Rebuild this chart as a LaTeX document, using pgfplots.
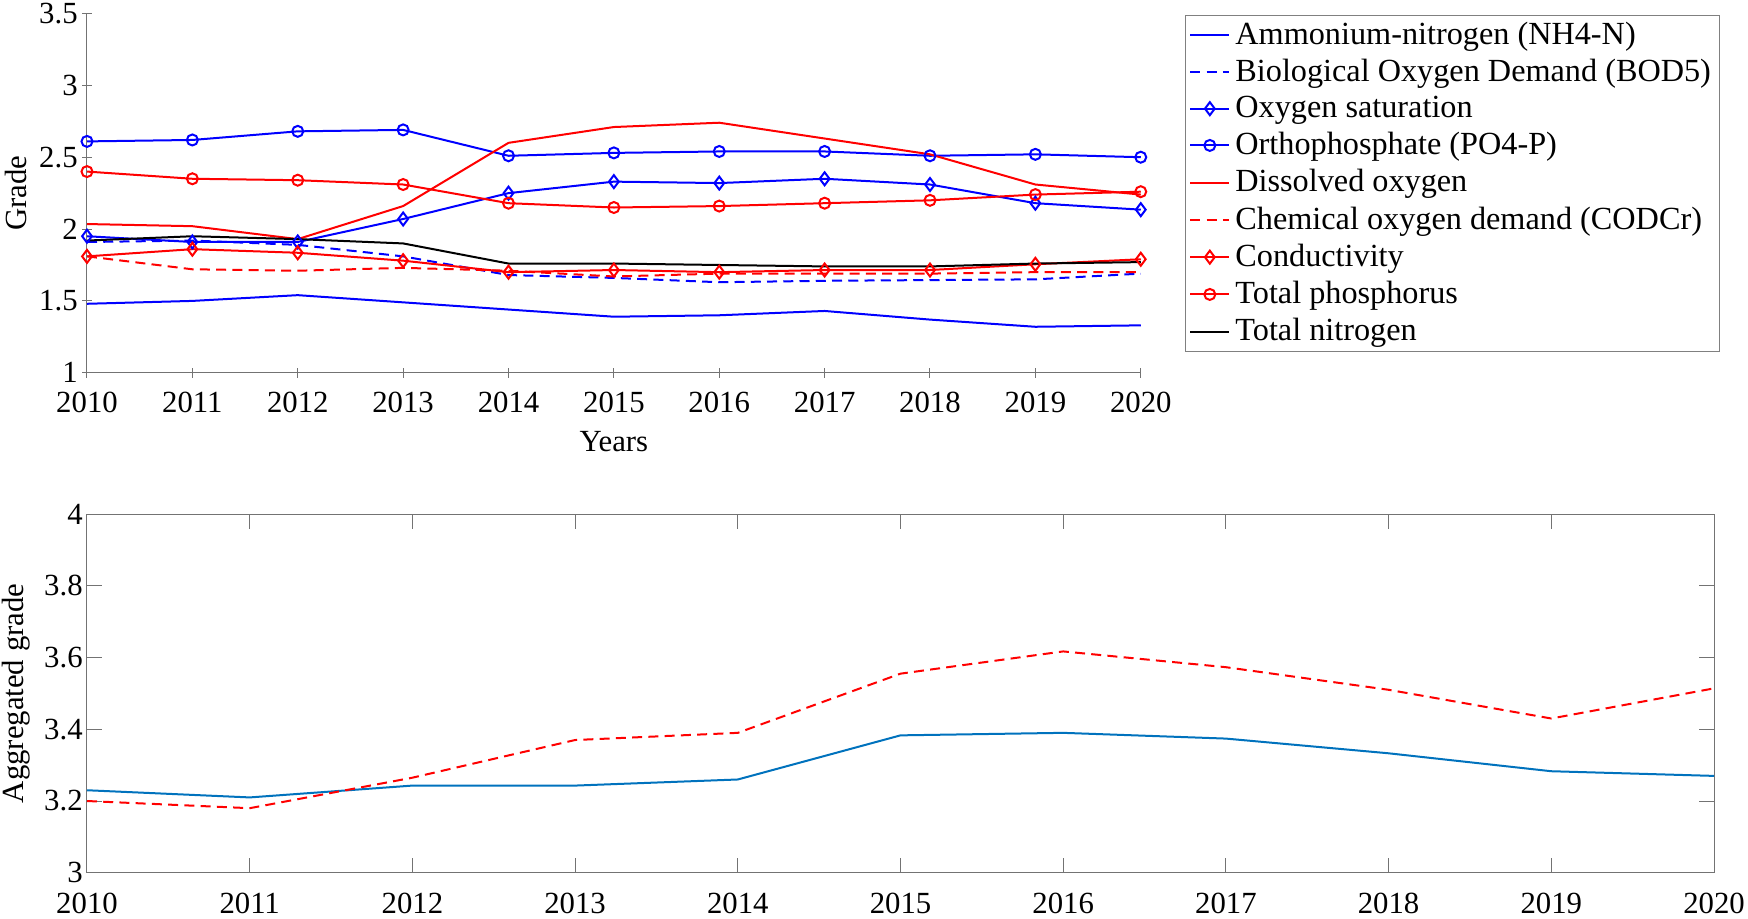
\documentclass[border=0pt]{standalone}
\usepackage{fontspec}
\setmainfont{Liberation Serif}
\usepackage{pgfplots}
\usepackage{pgfplotstable}
\pgfplotsset{compat=1.18}

% grade per parameter, 2010-2020
\pgfplotstableread{
year nh4 bod osat po4 do cod cond tp tn
2010 1.48 1.91 1.95 2.61 2.035 1.81 1.81 2.40 1.92
2011 1.50 1.92 1.91 2.62 2.02 1.72 1.86 2.35 1.95
2012 1.54 1.89 1.91 2.68 1.93 1.71 1.835 2.34 1.93
2013 1.49 1.81 2.07 2.69 2.16 1.73 1.78 2.31 1.90
2014 1.44 1.68 2.25 2.51 2.60 1.71 1.70 2.18 1.76
2015 1.39 1.66 2.33 2.53 2.71 1.67 1.715 2.15 1.76
2016 1.40 1.63 2.32 2.54 2.74 1.69 1.70 2.16 1.75
2017 1.43 1.64 2.35 2.54 2.63 1.69 1.715 2.18 1.74
2018 1.37 1.645 2.31 2.51 2.52 1.69 1.715 2.20 1.74
2019 1.32 1.65 2.18 2.52 2.31 1.70 1.755 2.24 1.76
2020 1.33 1.69 2.135 2.50 2.24 1.70 1.79 2.26 1.77
}\grades

\pgfplotstableread{
year a b
2010 3.23 3.20
2011 3.21 3.18
2012 3.243 3.265
2013 3.243 3.37
2014 3.26 3.39
2015 3.383 3.555
2016 3.39 3.617
2017 3.374 3.573
2018 3.333 3.51
2019 3.283 3.43
2020 3.27 3.514
}\aggr

\definecolor{mblue}{rgb}{0,0.447,0.741}

\pgfplotsset{
  every axis/.append style={
    font=\fontsize{12.3}{14}\selectfont,
    /pgf/number format/assume math mode=true,
    /pgf/number format/1000 sep={},
    axis line style={black!55},
    every tick/.style={black!55},
    tick align=inside,
    scale only axis,
    yticklabel style={xshift=1.8pt},
  },
  ln/.style={line width=0.8pt},
  dsh/.style={line width=0.8pt, dash pattern=on 4pt off 2.5pt},
}

\begin{document}
\begin{tikzpicture}
\useasboundingbox (0,0) rectangle (699.2pt,-367.2pt);

\begin{axis}[
  at={(34.8pt,-149.1pt)}, anchor=south west,
  width=421.5pt, height=143.7pt,
  xmin=2010, xmax=2020, ymin=1, ymax=3.5,
  xtick={2010,2011,...,2020},
  ytick={1,1.5,2,2.5,3,3.5},
  xticklabel style={yshift=-2.2pt},
  axis lines=left,
  axis line style={-},
  major tick length=4pt,
  xlabel={Years},
  ylabel={Grade},
  every axis y label/.style={at={(axis description cs:0,0.5)}, xshift=-28.4pt, rotate=90, anchor=center},
  every axis x label/.style={at={(axis description cs:0.5,0)}, anchor=center, yshift=-27.5pt},
  legend style={at={(1.042,1.0014)}, anchor=north west, yshift=-0.7pt, draw=black!50,
    font=\fontsize{12.9}{15}\selectfont, cells={anchor=west},
    row sep=0.45pt, inner ysep=0.55pt, inner xsep=1.5pt},
  legend image code/.code={\draw[mark repeat=2,mark phase=2] plot coordinates {(0cm,0cm) (0.275cm,0cm) (0.55cm,0cm)};},
]
\addplot[ln, blue] table[x=year,y=nh4] {\grades};
\addlegendentry{Ammonium-nitrogen (NH4-N)}
\addplot[dsh, blue] table[x=year,y=bod] {\grades};
\addlegendentry{Biological Oxygen Demand (BOD5)}
\addplot[ln, blue, mark=diamond, mark size=2.6pt, mark options={solid}] table[x=year,y=osat] {\grades};
\addlegendentry{Oxygen saturation}
\addplot[ln, blue, mark=o, mark size=2.2pt] table[x=year,y=po4] {\grades};
\addlegendentry{Orthophosphate (PO4-P)}
\addplot[ln, red] table[x=year,y=do] {\grades};
\addlegendentry{Dissolved oxygen}
\addplot[dsh, red] table[x=year,y=cod] {\grades};
\addlegendentry{Chemical oxygen demand (CODCr)}
\addplot[ln, red, mark=diamond, mark size=2.6pt] table[x=year,y=cond] {\grades};
\addlegendentry{Conductivity}
\addplot[ln, red, mark=o, mark size=2.2pt] table[x=year,y=tp] {\grades};
\addlegendentry{Total phosphorus}
\addplot[ln, black] table[x=year,y=tn] {\grades};
\addlegendentry{Total nitrogen}
\end{axis}

\begin{axis}[
  at={(34.8pt,-349.1pt)}, anchor=south west,
  width=650.8pt, height=143.5pt,
  xmin=2010, xmax=2020, ymin=3, ymax=4,
  xtick={2010,2011,...,2020},
  ytick={3,3.2,3.4,3.6,3.8,4},
  yticklabel style={/pgf/number format/.cd, fixed, precision=1},
  xticklabel style={yshift=-4.5pt},
  major tick length=6pt,
  ylabel={Aggregated grade},
  every axis y label/.style={at={(axis description cs:0,0.5)}, xshift=-28.4pt, rotate=90, anchor=center},
]
\addplot[ln, mblue] table[x=year,y=a] {\aggr};
\addplot[dsh, red] table[x=year,y=b] {\aggr};
\end{axis}
\end{tikzpicture}
\end{document}
